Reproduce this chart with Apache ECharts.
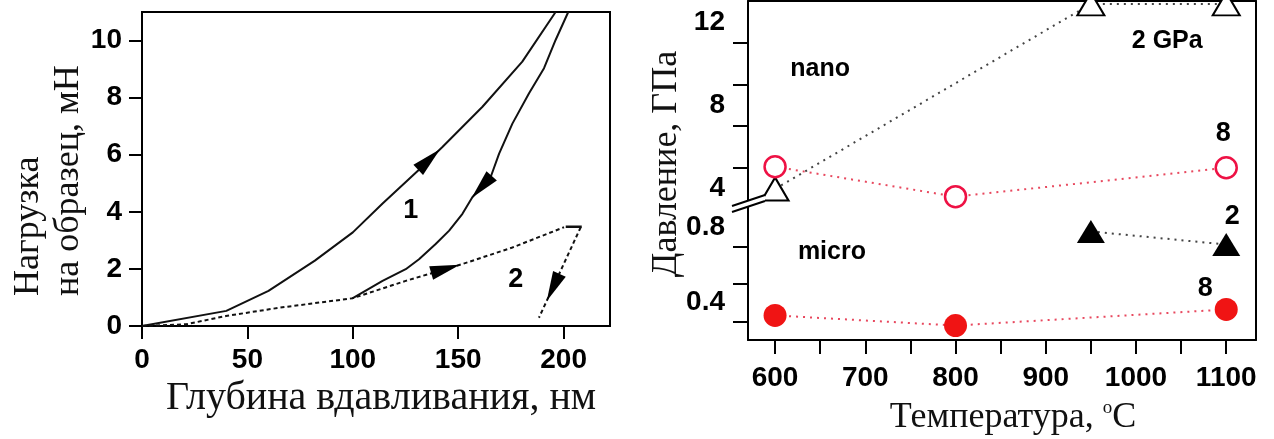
<!DOCTYPE html>
<html><head><meta charset="utf-8">
<script src="https://cdn.jsdelivr.net/npm/echarts@6/dist/echarts.min.js"></script>
<style>html,body{margin:0;padding:0;background:#fff}#c{width:1274px;height:439px}</style>
</head><body><div id="c"></div>
<script>
// ---------- Left chart: load vs depth ----------
const depthTicks = [0, 50, 100, 150, 200];
const loadTicks = [0, 2, 4, 6, 8, 10];
const load1 = [[0,0],[40,0.53],[60,1.23],[82,2.29],[100,3.28],[114,4.28],[131,5.45],[142.5,6.27],[161.5,7.68],[180.4,9.26],[196.2,11]];
const unload1 = [[202.2,11],[196.2,10.02],[190.7,9.03],[183.6,8.15],[175.7,7.09],[169.4,6.04],[165.4,5.22],[156.7,4.51],[152,3.93],[145.7,3.34],[139.3,2.87],[131.4,2.34],[125.1,1.99],[114.1,1.58],[99.8,0.97]];
const load2 = [[0,0],[20.9,0.06],[39.8,0.35],[65.1,0.64],[99.8,0.97],[125.1,1.58],[152,2.17],[175.7,2.75],[200.2,3.46]];
const cap2 = [[201,3.48],[208.6,3.48]];
const unload2 = [[208.1,3.46],[188.3,0.29]];
const arrowCenters = [[136.2,5.83],[161.1,4.87],[144,2.0],[195,1.35]];
const arrowToward = [[142.5,6.27],[156.7,4.51],[152,2.17],[188.3,0.29]];
const leftNotes = [[127.5,4.04,'1'],[177.3,1.64,'2']];

// ---------- Right chart: pressure vs temperature ----------
const tempTicks = [600,650,700,750,800,850,900,950,1000,1050,1100];
const tempLabels = [600,700,800,900,1000,1100];
const nanoLabelVals = [4, 8, 12];
const nanoTickVals = [5, 7, 9, 11];
const microLabelVals = [0.4, 0.8];
const microTickVals = [0.3, 0.5, 0.7];
const nano8T = [600, 800, 1100];
const nano8P = [5.04, 3.60, 4.99];
const nano2T = [600, 950, 1100];
const nano2P = [3.97, 12.86, 12.86];
const micro2T = [950, 1100];
const micro2P = [0.779, 0.709];
const micro8T = [600, 800, 1100];
const micro8P = [0.331, 0.277, 0.363];
const nanoNotes = [[650,9.73,'nano'],[1034.6,11.08,'2 GPa'],[1096.7,6.61,'8']];
const microNotes = [[663,0.669,'micro'],[1106.6,0.861,'2'],[1076.7,0.477,'8']];

const zip = (a, b) => a.map((v, i) => [v, b[i]]);
const SANS = '"Liberation Sans", Arial, sans-serif';
const SERIF = '"Liberation Serif", "Times New Roman", serif';
const BLACK = '#000';

const tickLbl = {fontFamily: SANS, fontWeight: 'bold', fontSize: 28, color: '#000', formatter: v => String(v)};

const chart = echarts.init(document.getElementById('c'), null, {renderer: 'canvas'});

const baseGraphic = [
  {type: 'text', x: 381, y: 398, style: {text: 'Глубина вдавливания, нм', fontFamily: SERIF, fontSize: 40, fill: '#111', align: 'center', verticalAlign: 'middle'}},
  {type: 'text', x: 29, y: 296, rotation: Math.PI / 2, style: {text: 'Нагрузка', fontFamily: SERIF, fontSize: 36, fill: '#111', align: 'left', verticalAlign: 'middle'}},
  {type: 'text', x: 69, y: 296, rotation: Math.PI / 2, style: {text: 'на образец, мН', fontFamily: SERIF, fontSize: 36, fill: '#111', align: 'left', verticalAlign: 'middle'}},
  {type: 'text', x: 667, y: 164, rotation: Math.PI / 2, style: {text: 'Давление, ГПа', fontFamily: SERIF, fontSize: 36, fill: '#111', align: 'center', verticalAlign: 'middle'}},
  {type: 'text', x: 1013, y: 418, style: {text: 'Температура, {s|o}C', fontFamily: SERIF, fontSize: 36, fill: '#111', align: 'center', verticalAlign: 'middle',
    rich: {s: {fontFamily: SERIF, fontSize: 19, fill: '#111', padding: [0, 0, 19, 0]}}}},
  {type: 'polygon', z: 100, shape: {points: [[732, 212], [765, 201], [765, 195], [732, 206]]}, style: {fill: '#fff', stroke: null}},
  {type: 'line', z: 101, shape: {x1: 732, y1: 212, x2: 765, y2: 201}, style: {stroke: BLACK, lineWidth: 2}},
  {type: 'line', z: 101, shape: {x1: 732, y1: 206, x2: 765, y2: 195}, style: {stroke: BLACK, lineWidth: 2}}
];

const option = {
  animation: false,
  backgroundColor: '#fff',
  grid: [
    {left: 142, top: 12, width: 468, height: 314, show: true, borderColor: BLACK, borderWidth: 2, backgroundColor: 'transparent'},
    {left: 748, top: 1, width: 508, height: 204},
    {left: 748, top: 205, width: 508, height: 135}
  ],
  xAxis: [
    {gridIndex: 0, type: 'value', min: 0, max: 222,
     axisLine: {show: true, onZero: false, lineStyle: {color: BLACK, width: 2}},
     axisTick: {show: true, inside: false, length: 13, lineStyle: {color: BLACK, width: 2}, customValues: depthTicks},
     axisLabel: Object.assign({margin: 20, customValues: depthTicks}, tickLbl),
     splitLine: {show: false}},
    {gridIndex: 1, type: 'value', position: 'top', min: 570, max: 1133,
     axisLine: {show: true, onZero: false, lineStyle: {color: BLACK, width: 2}},
     axisTick: {show: false}, axisLabel: {show: false}, splitLine: {show: false}},
    {gridIndex: 2, type: 'value', position: 'bottom', min: 570, max: 1133,
     axisLine: {show: true, onZero: false, lineStyle: {color: BLACK, width: 2}},
     axisTick: {show: true, inside: false, length: 14, lineStyle: {color: BLACK, width: 2}, customValues: tempTicks},
     axisLabel: Object.assign({margin: 24, customValues: tempLabels}, tickLbl),
     splitLine: {show: false}}
  ],
  yAxis: [
    {gridIndex: 0, type: 'value', min: 0, max: 11,
     axisLine: {show: true, onZero: false, lineStyle: {color: BLACK, width: 2}},
     axisTick: {show: true, inside: false, length: 13, lineStyle: {color: BLACK, width: 2}, customValues: loadTicks},
     axisLabel: Object.assign({margin: 20, customValues: loadTicks}, tickLbl),
     splitLine: {show: false}},
    {gridIndex: 1, type: 'value', position: 'left', min: 3.2, max: 13,
     axisLine: {show: true, onZero: false, lineStyle: {color: BLACK, width: 2}},
     axisTick: {show: true, inside: false, length: 15, lineStyle: {color: BLACK, width: 2}, customValues: nanoTickVals},
     axisLabel: Object.assign({margin: 23, customValues: nanoLabelVals}, tickLbl),
     splitLine: {show: false}},
    {gridIndex: 1, type: 'value', position: 'right', min: 0, max: 1,
     axisLine: {show: true, onZero: false, lineStyle: {color: BLACK, width: 2}},
     axisTick: {show: false}, axisLabel: {show: false}, splitLine: {show: false}},
    {gridIndex: 2, type: 'value', position: 'left', min: 0.2, max: 0.92,
     axisLine: {show: true, onZero: false, lineStyle: {color: BLACK, width: 2}},
     axisTick: {show: true, inside: false, length: 15, lineStyle: {color: BLACK, width: 2}, customValues: microTickVals},
     axisLabel: Object.assign({margin: 23, customValues: microLabelVals}, tickLbl),
     splitLine: {show: false}},
    {gridIndex: 2, type: 'value', position: 'right', min: 0, max: 1,
     axisLine: {show: true, onZero: false, lineStyle: {color: BLACK, width: 2}},
     axisTick: {show: false}, axisLabel: {show: false}, splitLine: {show: false}}
  ],
  graphic: baseGraphic,
  series: [
    {type: 'line', xAxisIndex: 0, yAxisIndex: 0, data: load1, showSymbol: false, symbol: 'none', clip: true,
     lineStyle: {color: '#111', width: 2}},
    {type: 'line', xAxisIndex: 0, yAxisIndex: 0, data: unload1, showSymbol: false, symbol: 'none', clip: true,
     lineStyle: {color: '#111', width: 2}},
    {type: 'line', xAxisIndex: 0, yAxisIndex: 0, data: load2, showSymbol: false, symbol: 'none',
     lineStyle: {color: '#111', width: 2, type: [4, 3]}},
    {type: 'line', xAxisIndex: 0, yAxisIndex: 0, data: cap2, showSymbol: false, symbol: 'none',
     lineStyle: {color: '#111', width: 2.5}},
    {type: 'line', xAxisIndex: 0, yAxisIndex: 0, data: unload2, showSymbol: false, symbol: 'none',
     lineStyle: {color: '#111', width: 2, type: [4, 3]}},
    {id: 'arrows', type: 'scatter', xAxisIndex: 0, yAxisIndex: 0, z: 10, silent: true,
     symbol: 'path://M5,0 L10,24 L0,24 Z', symbolSize: [14, 30],
     itemStyle: {color: '#000', opacity: 1}, data: arrowCenters},
    // right chart
    {type: 'line', xAxisIndex: 1, yAxisIndex: 1, data: zip(nano2T, nano2P), symbol: 'triangle', symbolSize: [27, 23], clip: false,
     lineStyle: {color: '#444', width: 2, type: [2, 5]}, itemStyle: {color: '#fff', borderColor: BLACK, borderWidth: 2}, z: 5},
    {type: 'line', xAxisIndex: 1, yAxisIndex: 1, data: zip(nano8T, nano8P), symbol: 'circle', symbolSize: 21,
     lineStyle: {color: '#e8485e', width: 2, type: [2, 5]}, itemStyle: {color: '#fff', borderColor: '#ee1144', borderWidth: 2.5}, z: 6},
    {type: 'line', xAxisIndex: 2, yAxisIndex: 3, data: zip(micro2T, micro2P), symbol: 'triangle', symbolSize: [28, 23],
     lineStyle: {color: '#444', width: 2, type: [2, 5]}, itemStyle: {color: BLACK}, z: 5},
    {type: 'line', xAxisIndex: 2, yAxisIndex: 3, data: zip(micro8T, micro8P), symbol: 'circle', symbolSize: 23,
     lineStyle: {color: '#e8485e', width: 2, type: [2, 5]}, itemStyle: {color: '#f01414'}, z: 6}
  ]
};
chart.setOption(option);

// orient the arrowheads along the curves (computed in pixel space through the axes)
const arrowItems = arrowCenters.map((c, i) => {
  const p = chart.convertToPixel({gridIndex: 0}, c);
  const q = chart.convertToPixel({gridIndex: 0}, arrowToward[i]);
  const dx = q[0] - p[0], dy = q[1] - p[1];
  return {value: c, symbolRotate: Math.atan2(-dx, -dy) * 180 / Math.PI};
});

// annotation texts placed through the axes
function noteTexts(notes, finder, size) {
  return notes.map(n => {
    const p = chart.convertToPixel(finder, [n[0], n[1]]);
    return {type: 'text', z: 50, x: p[0], y: p[1], style: {text: n[2], fontFamily: SANS, fontWeight: 'bold', fontSize: size, fill: '#000', align: 'center', verticalAlign: 'middle'}};
  });
}
const notes = [].concat(
  noteTexts(leftNotes, {xAxisIndex: 0, yAxisIndex: 0}, 27),
  noteTexts(nanoNotes.filter(n => n[2] !== '8'), {xAxisIndex: 1, yAxisIndex: 1}, 25),
  noteTexts(nanoNotes.filter(n => n[2] === '8'), {xAxisIndex: 1, yAxisIndex: 1}, 27),
  noteTexts(microNotes.filter(n => n[2] === 'micro'), {xAxisIndex: 2, yAxisIndex: 3}, 25),
  noteTexts(microNotes.filter(n => n[2] !== 'micro'), {xAxisIndex: 2, yAxisIndex: 3}, 27)
);
chart.setOption({series: [{id: 'arrows', data: arrowItems}], graphic: baseGraphic.concat(notes)});
</script>
</body></html>
